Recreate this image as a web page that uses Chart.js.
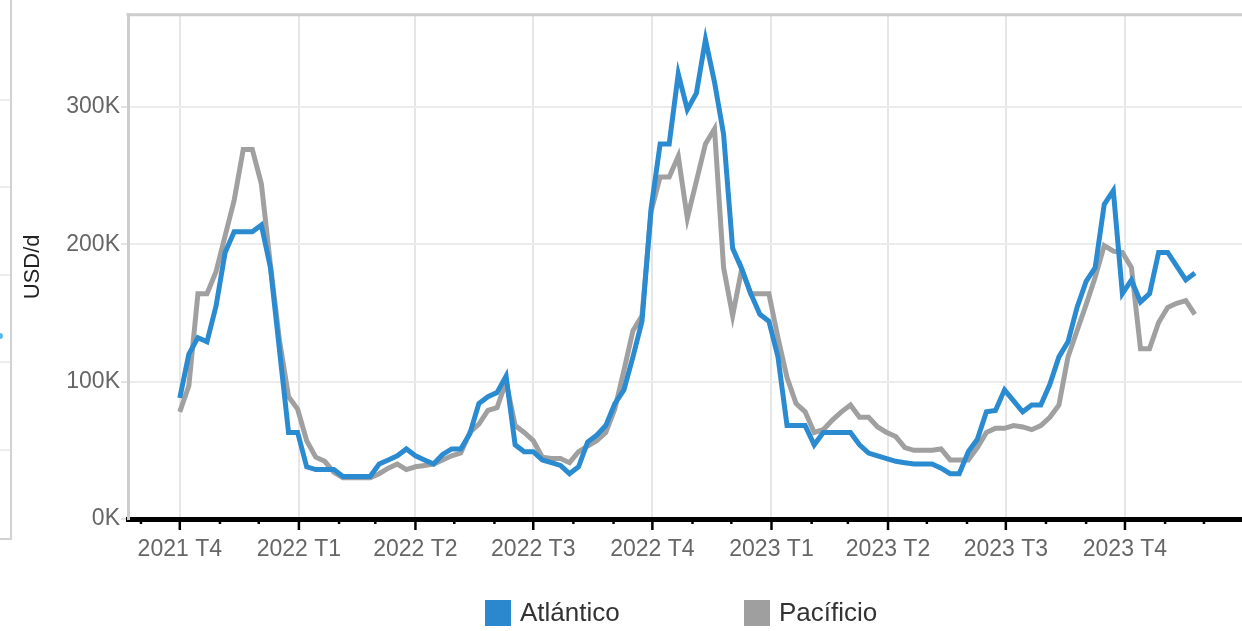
<!DOCTYPE html>
<html>
<head>
<meta charset="utf-8">
<script src="https://cdn.jsdelivr.net/npm/chart.js@4.4.0/dist/chart.umd.min.js"></script>
<style>
  html, body { margin: 0; padding: 0; background: #fff; overflow: hidden; }
  #wrap { position: relative; width: 1242px; height: 631px; }
  #side { position: absolute; left: 0; top: 0; width: 10px; height: 538px; border-right: 2px solid #d2d2d2; border-bottom: 2px solid #d2d2d2; }
  .sg { position: absolute; left: 0; width: 10px; height: 2px; background: #ededed; }
  #dot { position: absolute; left: -3px; top: 333px; width: 6px; height: 6px; border-radius: 3px; background: #5bbbe8; }
  #legend { position: absolute; top: 599px; left: 0; width: 1242px; height: 28px; font: 26px 'Liberation Sans', Arial, sans-serif; color: #333; }
  .item { position: absolute; top: 0; display: flex; align-items: center; height: 27px; }
  .sw { width: 26px; height: 26px; margin-right: 9px; }
</style>
</head>
<body>
<div id="wrap">
  <div id="side">
    <div class="sg" style="top:99px"></div>
    <div class="sg" style="top:186px"></div>
    <div class="sg" style="top:274px"></div>
    <div class="sg" style="top:361px"></div>
    <div class="sg" style="top:449px"></div>
  </div>
  <div id="dot"></div>
  <canvas id="freight"></canvas>
  <div id="legend">
    <div class="item" style="left:485px"><div class="sw" style="background:#2b88cf"></div>Atlántico</div>
    <div class="item" style="left:744px"><div class="sw" style="background:#9f9fa0"></div>Pacíficio</div>
  </div>
</div>
<script>
// weekly values, thousands of USD per day, first week starting 1 Oct 2021
var atlantico = [88, 120, 132, 129, 155, 194, 209, 209, 209, 214, 183, 123, 63, 63, 38, 36, 36, 36, 31, 31,
  31, 31, 40, 43, 46, 51, 46, 43, 40, 47, 51, 51, 62, 84, 89, 92, 104, 54, 49, 49,
  43, 41, 39, 33, 38, 56, 61, 68, 84, 94, 118, 144, 226, 273, 273, 324, 298, 310, 349, 318,
  280, 197, 182, 164, 149, 144, 118, 68, 68, 68, 54, 63, 63, 63, 63, 54, 48, 46, 44, 42,
  41, 40, 40, 40, 37, 33, 33, 49, 58, 78, 79, 94, 86, 78, 83, 83, 98, 118, 129, 154,
  173, 183, 229, 239, 164, 174, 158, 164, 194, 194, 184, 174, 179];
var pacifico = [78, 97, 164, 164, 180, 206, 232, 269, 269, 244, 185, 130, 89, 80, 57, 45, 42, 34, 30, 30,
  30, 30, 33, 37, 40, 36, 38, 39, 40, 43, 46, 48, 63, 69, 79, 81, 100, 68, 63, 57,
  45, 44, 44, 41, 49, 53, 57, 63, 80, 108, 137, 148, 224, 249, 249, 264, 219, 246, 273, 284,
  183, 148, 182, 164, 164, 164, 132, 103, 84, 78, 63, 65, 72, 78, 83, 74, 74, 67, 63, 60,
  52, 50, 50, 50, 51, 43, 43, 43, 52, 63, 66, 66, 68, 67, 65, 68, 74, 83, 118, 137,
  156, 176, 199, 195, 194, 183, 124, 124, 143, 154, 157, 159, 149];
var quarterNames = ['T1', 'T2', 'T3', 'T4'];

var firstWeek = Date.UTC(2021, 9, 1);
var DAY = 86400000;
var weekDays = atlantico.map(function (v, i) { return i * 7; });

// month ticks from Sep 2021 to Dec 2023, labelled at quarter starts
var monthTicks = [];
for (var k = 0; k < 28; k++) {
  var yr = 2021 + Math.floor((8 + k) / 12), mo = (8 + k) % 12;
  monthTicks.push({
    value: (Date.UTC(yr, mo, 1) - firstWeek) / DAY,
    label: mo % 3 === 0 ? yr + ' ' + quarterNames[mo / 3] : ''
  });
}

function points(arr) {
  return arr.map(function (v, i) { return { x: weekDays[i], y: v }; });
}

var axisFont = { family: "'Liberation Sans', Arial, sans-serif", size: 23 };

var frame = {
  id: 'frame',
  afterDraw: function (chart) {
    var ctx = chart.ctx, a = chart.chartArea, xs = chart.scales.x;
    ctx.save();
    ctx.strokeStyle = '#000';
    ctx.lineWidth = 2.5;
    xs.ticks.forEach(function (t, i) {
      var px = xs.getPixelForValue(t.value);
      var len = monthTicks[i] && monthTicks[i].label ? 11 : 5;
      ctx.beginPath();
      ctx.moveTo(px, a.bottom + 2);
      ctx.lineTo(px, a.bottom + len);
      ctx.stroke();
    });
    ctx.strokeStyle = '#cdcdcd';
    ctx.lineWidth = 3;
    ctx.beginPath();
    ctx.moveTo(a.left - 1.5, a.top);
    ctx.lineTo(a.right, a.top);
    ctx.stroke();
    ctx.restore();
  }
};

new Chart(document.getElementById('freight'), {
  type: 'line',
  data: {
    datasets: [{
      label: 'Atlántico',
      data: points(atlantico),
      borderColor: '#2a8bd0',
      borderWidth: 5,
      pointRadius: 0,
      tension: 0
    }, {
      label: 'Pacíficio',
      data: points(pacifico),
      borderColor: '#a0a0a1',
      borderWidth: 5,
      pointRadius: 0,
      tension: 0
    }]
  },
  options: {
    responsive: true,
    maintainAspectRatio: false,
    animation: false,
    layout: { padding: { left: 20, top: 12, right: 0, bottom: 62 } },
    plugins: {
      legend: { display: false },
      tooltip: { enabled: false }
    },
    scales: {
      x: {
        type: 'linear',
        min: -40,
        max: 820.4,
        afterFit: function (s) { s.height = 50; },
        afterBuildTicks: function (s) {
          s.ticks = monthTicks.map(function (t) { return { value: t.value }; });
        },
        border: { color: '#000', width: 5 },
        grid: {
          drawTicks: false,
          lineWidth: 2,
          color: function (c) {
            var t = monthTicks[c.index];
            return t && t.label ? '#e6e6e6' : 'rgba(0,0,0,0)';
          }
        },
        ticks: {
          autoSkip: false,
          maxRotation: 0,
          padding: 17,
          color: '#666',
          font: axisFont,
          callback: function (v, i) { return monthTicks[i] ? monthTicks[i].label : ''; }
        }
      },
      y: {
        min: 0,
        max: 367,
        afterFit: function (s) { s.width = 108; },
        border: { color: '#cdcdcd', width: 3 },
        grid: { color: '#ececec', lineWidth: 2, tickLength: 7, tickColor: '#e2e2e2' },
        ticks: {
          stepSize: 100,
          includeBounds: false,
          padding: 1,
          color: '#666',
          font: axisFont,
          callback: function (v) { return v + 'K'; }
        },
        title: {
          display: true,
          text: 'USD/d',
          color: '#222',
          padding: 0,
          font: { family: "'Liberation Sans', Arial, sans-serif", size: 22 }
        }
      }
    }
  },
  plugins: [frame]
});
</script>
</body>
</html>
